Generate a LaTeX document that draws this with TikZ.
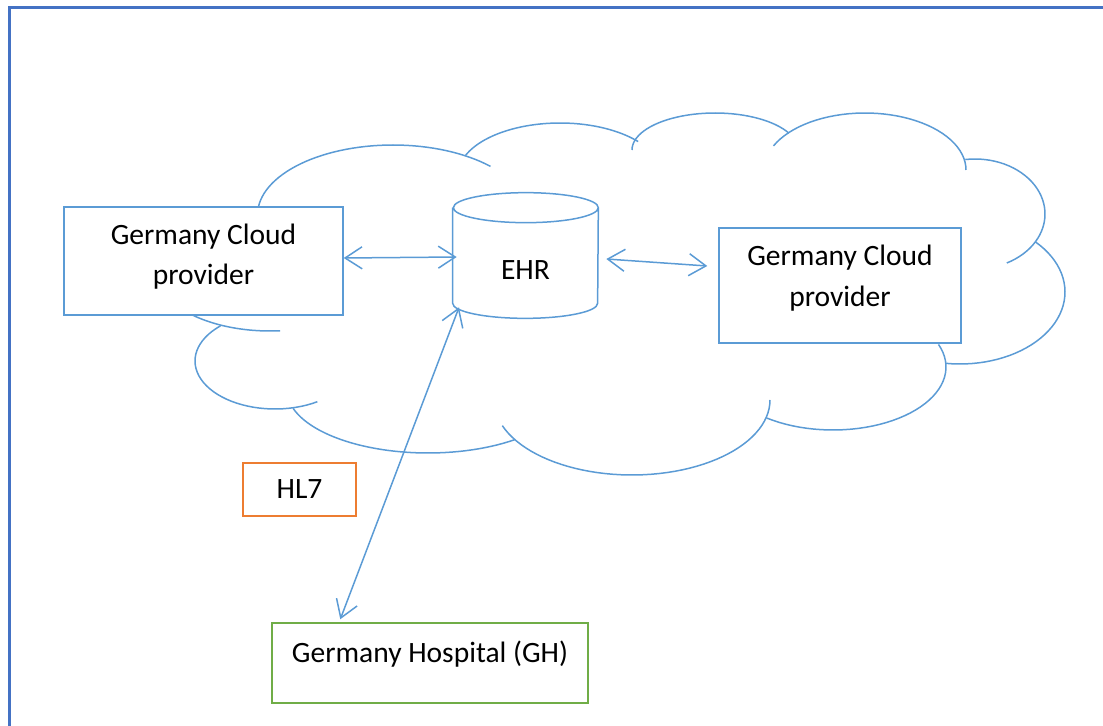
\documentclass[tikz,border=0pt]{standalone}
\usepackage{fontspec}
\setmainfont{Carlito}
\usepackage{tikz}
\usetikzlibrary{positioning, arrows.meta}

\definecolor{cloudblue}{HTML}{5B9BD5}
\definecolor{frameblue}{HTML}{4472C4}
\definecolor{hlorange}{HTML}{ED7D31}
\definecolor{ghgreen}{HTML}{70AD47}

\tikzset{
	lobe/.style={draw=cloudblue, line width=0.03cm},
	pbox/.style={draw=#1, fill=white, line width=0.03cm, inner sep=0pt},
	txt/.style={font=\fontsize{16.8}{23}\selectfont, align=center, inner sep=0pt},
	link/.style={cloudblue, line width=0.03cm, {Straight Barb[length=0.34cm,width=0.44cm]}-{Straight Barb[length=0.34cm,width=0.44cm]}}
}

\begin{document}
\begin{tikzpicture}[x=0.02cm, y=-0.02cm]
	\useasboundingbox (0,0) rectangle (1103,726);
	\draw[frameblue, line width=0.045cm] (9.5,726) -- (9.5,7.5) -- (1103,7.5);

	% cloud outline, one elliptic lobe at a time
	\draw[lobe] plot[domain=175:316, samples=50] ({393+135.5*cos(\x)}, {215+70*sin(\x)});
	\draw[lobe] plot[domain=202:320, samples=40] ({560+102*cos(\x)}, {175+52*sin(\x)});
	\draw[lobe] plot[domain=180:333, samples=40] ({715+83*cos(\x)}, {150+37*sin(\x)});
	\draw[lobe] plot[domain=205:360, samples=40] ({865+101*cos(\x)}, {170+57*sin(\x)});
	\draw[lobe] plot[domain=-98:63, samples=40] ({975+70*cos(\x)}, {214+55*sin(\x)});
	\draw[lobe] plot[domain=-44:98, samples=40] ({960+105*cos(\x)}, {292+72*sin(\x)});
	\draw[lobe] plot[domain=-21:126, samples=40] ({833+113*cos(\x)}, {367+63*sin(\x)});
	\draw[lobe] plot[domain=0:160, samples=50] ({632+138*cos(\x)}, {400+75*sin(\x)});
	\draw[lobe] plot[domain=52:163, samples=40] ({428+141*cos(\x)}, {390+63*sin(\x)});
	\draw[lobe] plot[domain=58:227, samples=40] ({275+80*cos(\x)}, {361+48*sin(\x)});
	\draw[lobe] plot[domain=85:150, samples=30] ({270+115*cos(\x)}, {270+61*sin(\x)});

	\node(GCP1) [pbox=cloudblue, minimum width=5.58cm, minimum height=2.16cm] at (203.5,261) {};
	\node(GCP1txt) [txt, below=0.34cm of GCP1.north] {Germany Cloud\\provider};
	\node(GCP2) [pbox=cloudblue, minimum width=4.84cm, minimum height=2.3cm] at (840,285.5) {};
	\node(GCP2txt) [txt, below=0.35cm of GCP2.north] {Germany Cloud\\provider};

	\node(EHR) [txt, minimum width=2.9cm, minimum height=1.9cm] at (525.5,270.5) {EHR};
	\draw[lobe] ([yshift=0.3cm]EHR.north west) -- ([yshift=0.3cm]EHR.south west)
		arc[start angle=180, end angle=360, x radius=1.45cm, y radius=0.3cm]
		-- ([yshift=0.3cm]EHR.north east)
		arc[start angle=0, end angle=180, x radius=1.45cm, y radius=0.3cm]
		arc[start angle=180, end angle=360, x radius=1.45cm, y radius=0.3cm];

	\node(HL7) [pbox=hlorange, txt, minimum width=2.26cm, minimum height=1.06cm] at (299.5,489.5) {HL7};
	\node(GH) [pbox=ghgreen, minimum width=6.32cm, minimum height=1.6cm] at (430,663) {};
	\node(GHtxt) [txt, below=0.37cm of GH.north] {Germany Hospital (GH)};

	\draw[link] ([yshift=0.06cm]GCP1.east) -- ([xshift=0.08cm,yshift=0.27cm]EHR.west);
	\draw[link] ([xshift=0.16cm,yshift=0.23cm]EHR.east) -- ([xshift=-0.22cm,yshift=0.39cm]GCP2.west);
	\draw[link] ([xshift=-1.33cm,yshift=0.22cm]EHR.south) -- ([xshift=1.38cm,yshift=0.06cm]GH.north west);
\end{tikzpicture}
\end{document}
